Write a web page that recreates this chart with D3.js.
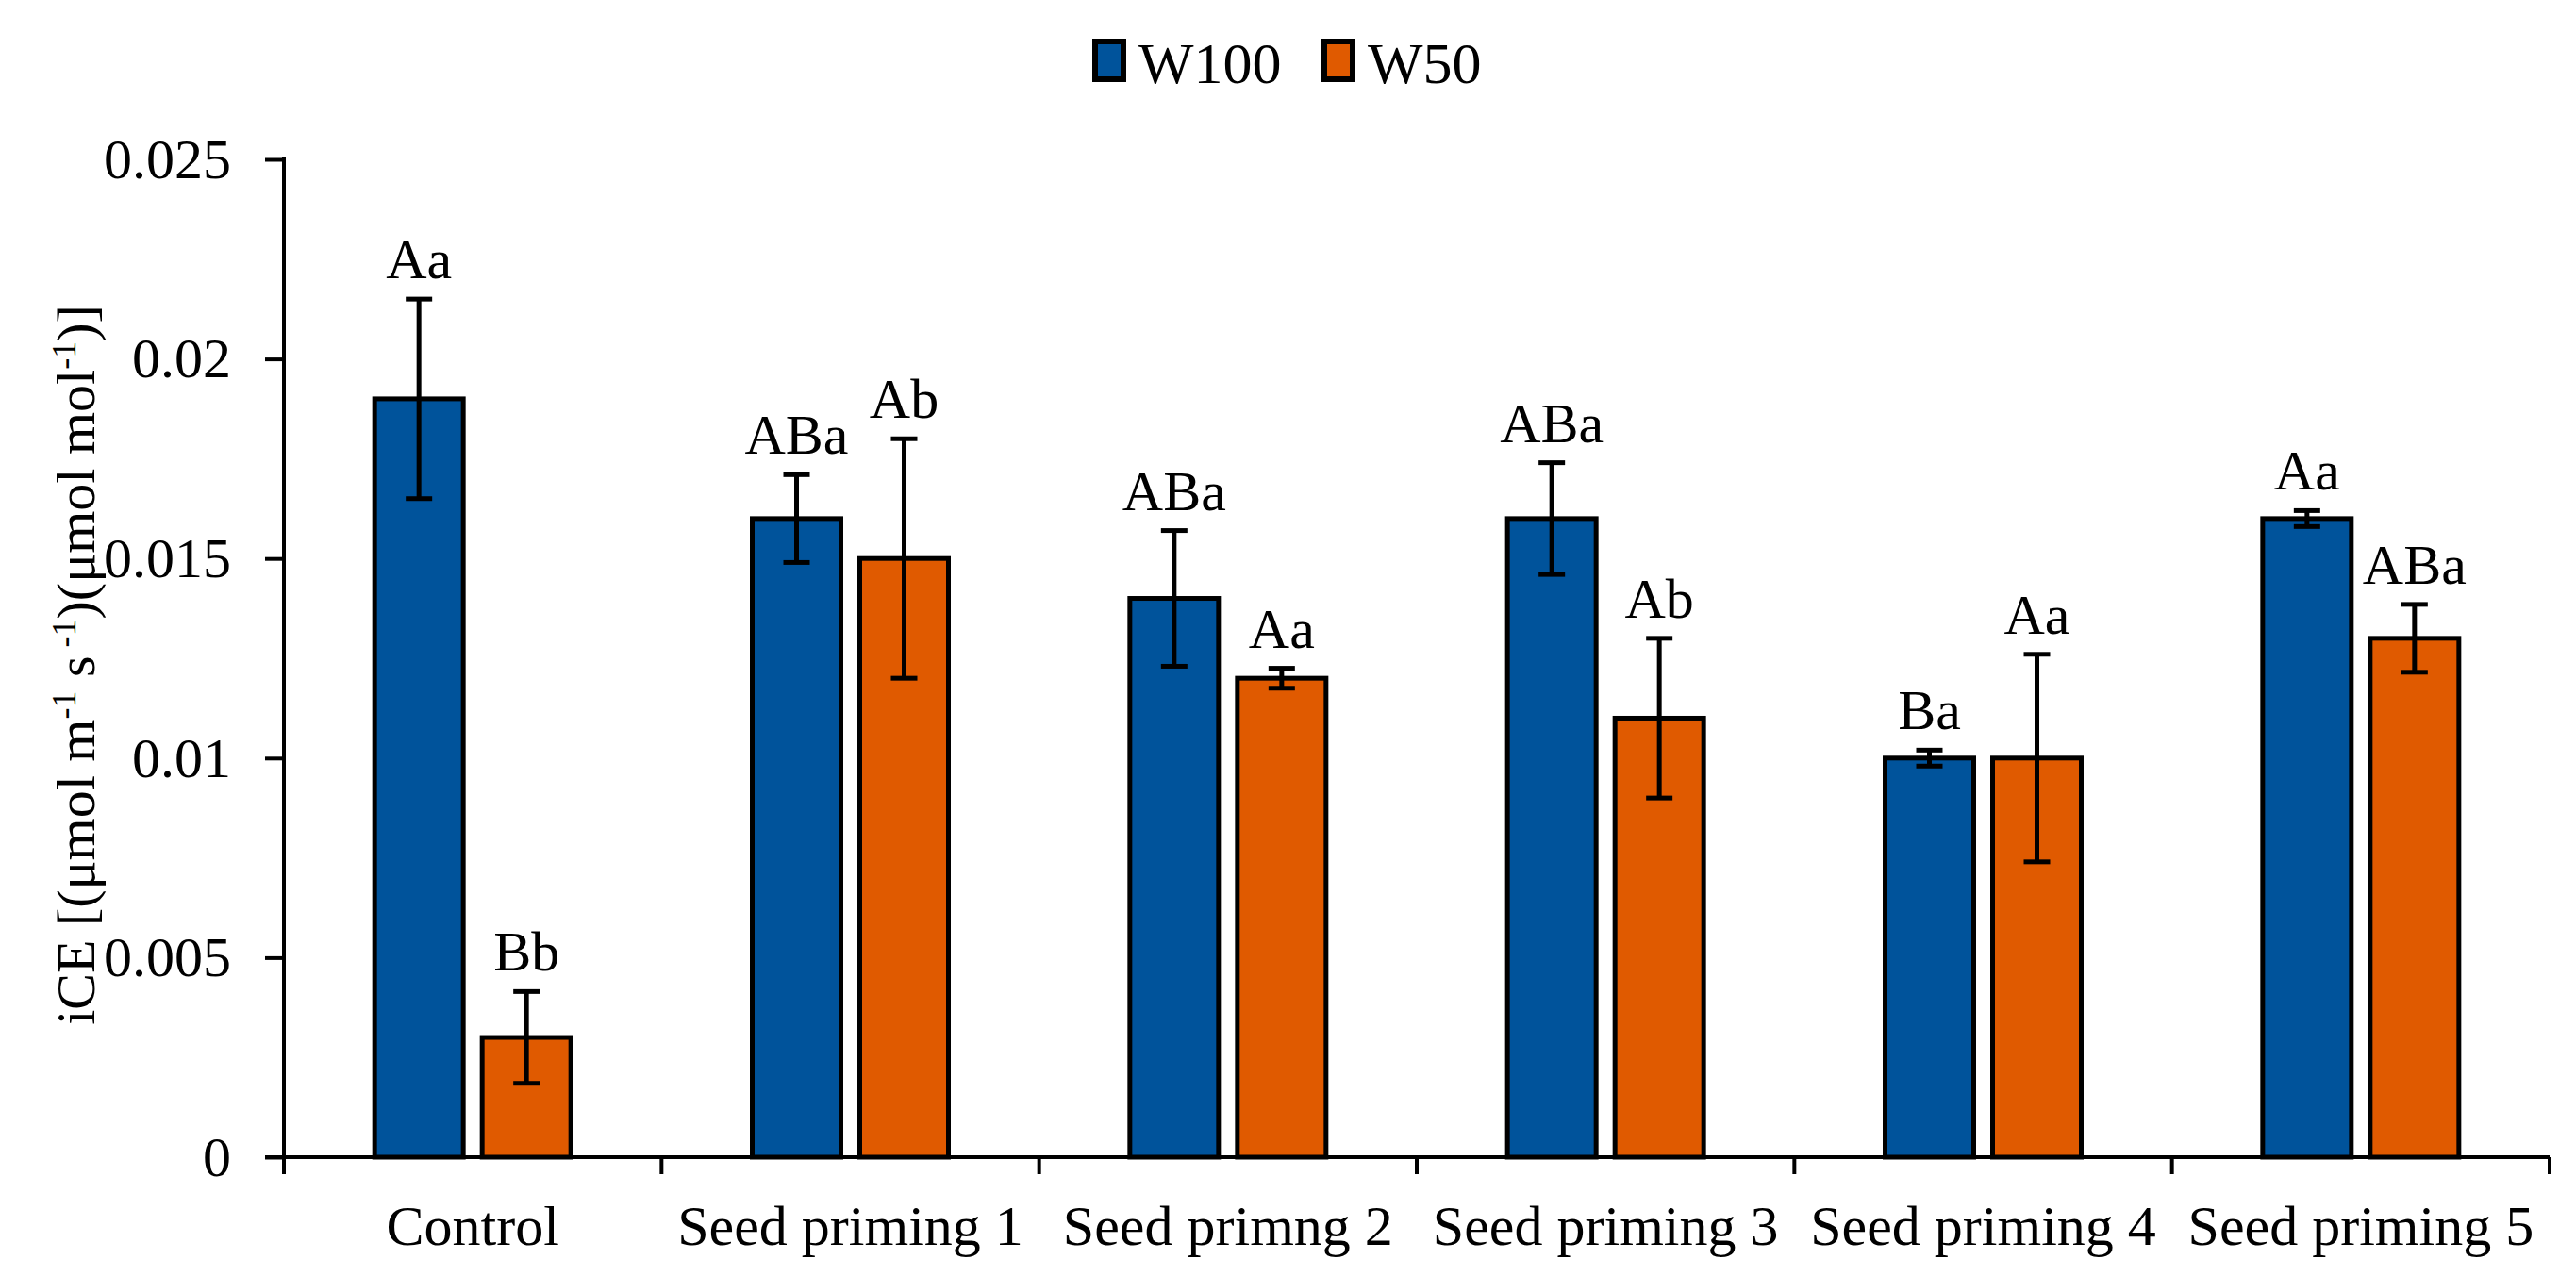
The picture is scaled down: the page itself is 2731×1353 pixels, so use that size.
<!DOCTYPE html>
<html>
<head>
<meta charset="utf-8">
<script src="https://cdn.jsdelivr.net/npm/d3@7"></script>
<style>
  body { margin: 0; background: #fff; }
  text { font-family: "Liberation Serif", "Times New Roman", serif; fill: #000; }
</style>
</head>
<body>
<svg id="chart" width="2731" height="1353"></svg>
<script>
// Data
const categories = ['Control', 'Seed priming 1', 'Seed primng 2', 'Seed priming 3', 'Seed priming 4', 'Seed priming 5'];
const seriesNames = ['W100', 'W50'];
const w100 = [0.019, 0.016, 0.014, 0.016, 0.010, 0.016];
const w100Err = [0.0025, 0.0011, 0.0017, 0.0014, 0.0002, 0.0002];
const w50 = [0.003, 0.015, 0.012, 0.011, 0.010, 0.013];
const w50Err = [0.00115, 0.003, 0.00025, 0.002, 0.0026, 0.00085];
const w100Letters = ['Aa', 'ABa', 'ABa', 'ABa', 'Ba', 'Aa'];
const w50Letters = ['Bb', 'Ab', 'Aa', 'Ab', 'Aa', 'ABa'];
const yTicks = [0, 0.005, 0.01, 0.015, 0.02, 0.025];
const colors = ['#00539b', '#e05a00'];

const svg = d3.select('#chart');
const plotLeft = 301, plotRight = 2703, plotTop = 169, plotBottom = 1227;

const x = d3.scaleBand().domain(categories).range([plotLeft, plotRight]);
const y = d3.scaleLinear().domain([0, 0.025]).range([plotBottom, plotTop]);
const barW = 94, gap = 20;

// Y axis
const yAxis = svg.append('g')
    .attr('transform', `translate(${plotLeft},0)`)
    .call(d3.axisLeft(y).tickValues(yTicks).tickSize(20).tickPadding(36)
        .tickFormat(d => d === 0 ? '0' : String(+d.toFixed(3))));
yAxis.select('.domain').remove();
yAxis.selectAll('line').attr('stroke', '#000').attr('stroke-width', 4);
yAxis.selectAll('text').style('font-size', '60px').style('font-family', '"Liberation Serif", serif');
svg.append('line').attr('x1', plotLeft).attr('x2', plotLeft).attr('y1', plotTop - 2).attr('y2', plotBottom + 18)
    .attr('stroke', '#000').attr('stroke-width', 4);

// X axis
svg.append('line').attr('x1', plotLeft - 20).attr('x2', plotRight).attr('y1', plotBottom).attr('y2', plotBottom)
    .attr('stroke', '#000').attr('stroke-width', 4);
const boundaries = categories.map(c => x(c) + x.bandwidth()).concat([plotLeft]);
svg.selectAll('.xt').data(boundaries).join('line')
    .attr('x1', d => d).attr('x2', d => d).attr('y1', plotBottom).attr('y2', plotBottom + 18)
    .attr('stroke', '#000').attr('stroke-width', 4);
svg.selectAll('.xl').data(categories).join('text')
    .attr('x', d => x(d) + x.bandwidth() / 2).attr('y', 1320)
    .attr('text-anchor', 'middle').style('font-size', '60px').text(d => d);

// Y title
svg.append('text')
    .attr('transform', 'translate(100,705) rotate(-90)')
    .attr('text-anchor', 'middle').style('font-size', '58px')
    .html('iCE [(μmol m<tspan dy="-20" font-size="36">-1</tspan><tspan dy="20"> s</tspan><tspan dy="-20" font-size="36"> -1</tspan><tspan dy="20">)(μmol mol</tspan><tspan dy="-20" font-size="36">-1</tspan><tspan dy="20">)]</tspan>');

// Bars
const series = [
    { vals: w100, errs: w100Err, letters: w100Letters, off: -gap / 2 - barW },
    { vals: w50, errs: w50Err, letters: w50Letters, off: gap / 2 }
];
series.forEach((s, si) => {
    const g = svg.append('g');
    categories.forEach((c, i) => {
        const cx = x(c) + x.bandwidth() / 2 + s.off;
        const v = s.vals[i], e = s.errs[i];
        g.append('rect').attr('x', cx).attr('y', y(v)).attr('width', barW).attr('height', y(0) - y(v))
            .attr('fill', colors[si]).attr('stroke', '#000').attr('stroke-width', 5);
        const mx = cx + barW / 2;
        g.append('line').attr('x1', mx).attr('x2', mx).attr('y1', y(v + e)).attr('y2', y(v - e))
            .attr('stroke', '#000').attr('stroke-width', 5);
        [v + e, v - e].forEach(t => g.append('line').attr('x1', mx - 14).attr('x2', mx + 14)
            .attr('y1', y(t)).attr('y2', y(t)).attr('stroke', '#000').attr('stroke-width', 5));
        g.append('text').attr('x', mx).attr('y', y(v + e) - 22).attr('text-anchor', 'middle')
            .style('font-size', '60px').text(s.letters[i]);
    });
});

// Legend
const legend = svg.append('g');
const legX = [1161, 1404];
seriesNames.forEach((n, i) => {
    legend.append('rect').attr('x', legX[i]).attr('y', 44).attr('width', 30).attr('height', 40)
        .attr('fill', colors[i]).attr('stroke', '#000').attr('stroke-width', 6);
    legend.append('text').attr('x', legX[i] + 46).attr('y', 88).style('font-size', '62px').text(n);
});
</script>
</body>
</html>
